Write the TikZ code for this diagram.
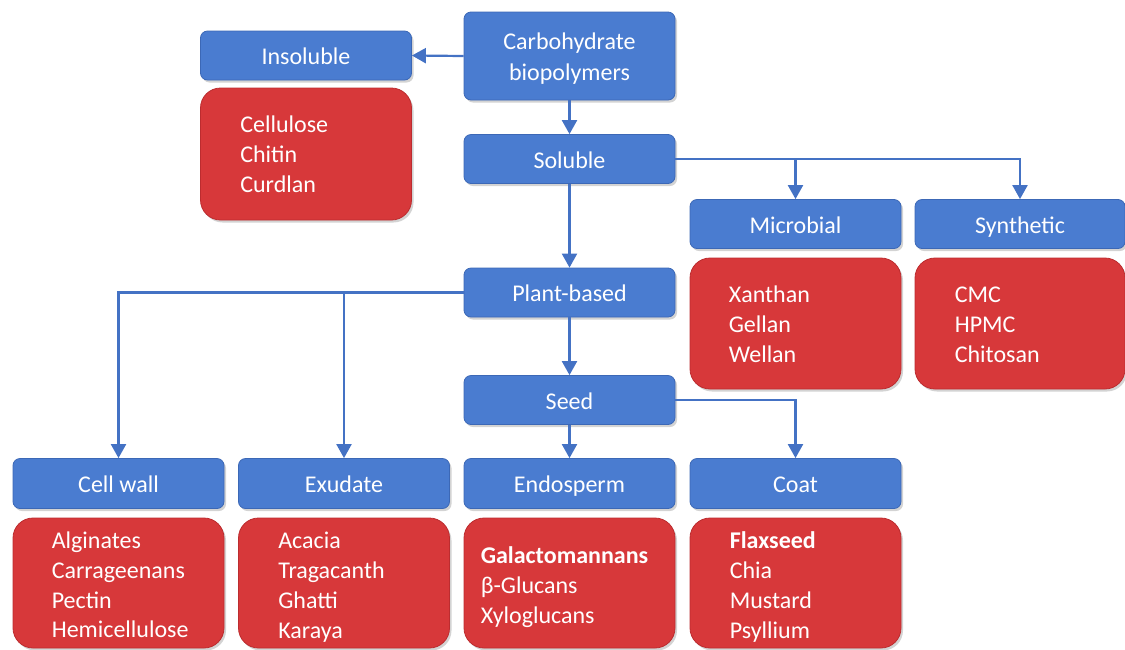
\documentclass[tikz,border=0pt]{standalone}
\usepackage{fontspec}
\setmainfont{Carlito}
\usetikzlibrary{arrows.meta,shadows}
\definecolor{bluebox}{RGB}{74,124,208}
\definecolor{blueedge}{RGB}{60,104,182}
\definecolor{redbox}{RGB}{215,56,58}
\definecolor{rededge}{RGB}{188,44,47}
\definecolor{conn}{RGB}{68,114,196}
\tikzset{
  bluebox/.style={rectangle, rounded corners=7pt, fill=bluebox, draw=blueedge, line width=0.8pt,
    minimum width=211pt, minimum height=49pt, text=white, align=center,
    font=\fontsize{24}{31}\selectfont,
    drop shadow={opacity=0.35, shadow xshift=2pt, shadow yshift=-2.5pt}},
  oneline/.style={text height=21pt, text depth=3pt},
  redbox/.style={rectangle, rounded corners=20pt, fill=redbox, draw=rededge, line width=0.8pt,
    minimum width=211pt, minimum height=131pt,
    drop shadow={opacity=0.35, shadow xshift=2pt, shadow yshift=-2.5pt}},
  lst/.style={anchor=west, text=white, align=left, inner sep=0pt,
    font=\fontsize{24}{29.8}\selectfont},
  arr/.style={draw=conn, line width=2.2pt, -{Triangle[length=14pt,width=15pt]}}
}
\begin{document}
\begin{tikzpicture}[x=1pt,y=-1pt]
\useasboundingbox (0,0) rectangle (1125,649);
% blue boxes
\node[bluebox, minimum height=88pt] (carb) at (569.5,56) {\rule{0pt}{21pt}Carbohydrate\\biopolymers};
\node[bluebox, oneline] (insol) at (306,55.5) {Insoluble};
\node[bluebox, oneline] (sol) at (569.5,159) {Soluble};
\node[bluebox, oneline] (micro) at (795.5,224) {Microbial};
\node[bluebox, oneline, minimum width=210pt] (synth) at (1020,224) {Synthetic};
\node[bluebox, oneline] (plant) at (569.5,292.5) {Plant-based};
\node[bluebox, oneline] (seed) at (569.5,400) {Seed};
\node[bluebox, oneline, minimum height=50pt] (cellwall) at (118.5,483.5) {Cell wall};
\node[bluebox, oneline, minimum height=50pt] (exud) at (344,483.5) {Exudate};
\node[bluebox, oneline, minimum height=50pt] (endo) at (569.5,483.5) {Endosperm};
\node[bluebox, oneline, minimum height=50pt] (coat) at (795.5,483.5) {Coat};
% red boxes
\node[redbox, minimum height=132pt] (insred) at (306,154) {};
\node[redbox] (micred) at (795.5,323.5) {};
\node[redbox, minimum width=210pt] (synred) at (1020,323.5) {};
\node[redbox, minimum height=130pt] (cwred) at (118.5,583) {};
\node[redbox, minimum height=130pt] (exred) at (344,583) {};
\node[redbox, minimum height=130pt] (enred) at (569.5,583) {};
\node[redbox, minimum height=130pt] (coatred) at (795.5,583) {};
% lists
\node[lst] (insl) at ([xshift=40pt]insred.west) {Cellulose\\Chitin\\Curdlan};
\node[lst] (micl) at ([xshift=39pt,yshift=-1pt]micred.west) {Xanthan\\Gellan\\Wellan};
\node[lst] (synl) at ([xshift=40pt,yshift=-1pt]synred.west) {CMC\\HPMC\\Chitosan};
\node[lst] (cwl) at ([xshift=39pt,yshift=-2pt]cwred.west) {Alginates\\Carrageenans\\Pectin\\Hemicellulose};
\node[lst] (exl) at ([xshift=40pt,yshift=-4pt]exred.west) {Acacia\\Tragacanth\\Ghatti\\Karaya};
\node[lst] (enl) at ([xshift=17pt,yshift=-4pt]enred.west) {\textbf{Galactomannans}\\β-Glucans\\Xyloglucans};
\node[lst] (coatl) at ([xshift=40pt,yshift=-4pt]coatred.west) {\textbf{Flaxseed}\\Chia\\Mustard\\Psyllium};
% connectors
\draw[arr] (carb.west) -- (insol.east);
\draw[arr] (carb.south) -- (sol.north);
\draw[arr] (sol.east) -| (micro.north);
\draw[arr] (sol.east) -| (synth.north);
\draw[arr] (sol.south) -- (plant.north);
\draw[arr] (plant.west) -| (cellwall.north);
\draw[arr] (plant.west) -| (exud.north);
\draw[arr] (plant.south) -- (seed.north);
\draw[arr] (seed.south) -- (endo.north);
\draw[arr] (seed.east) -| (coat.north);
\end{tikzpicture}
\end{document}
